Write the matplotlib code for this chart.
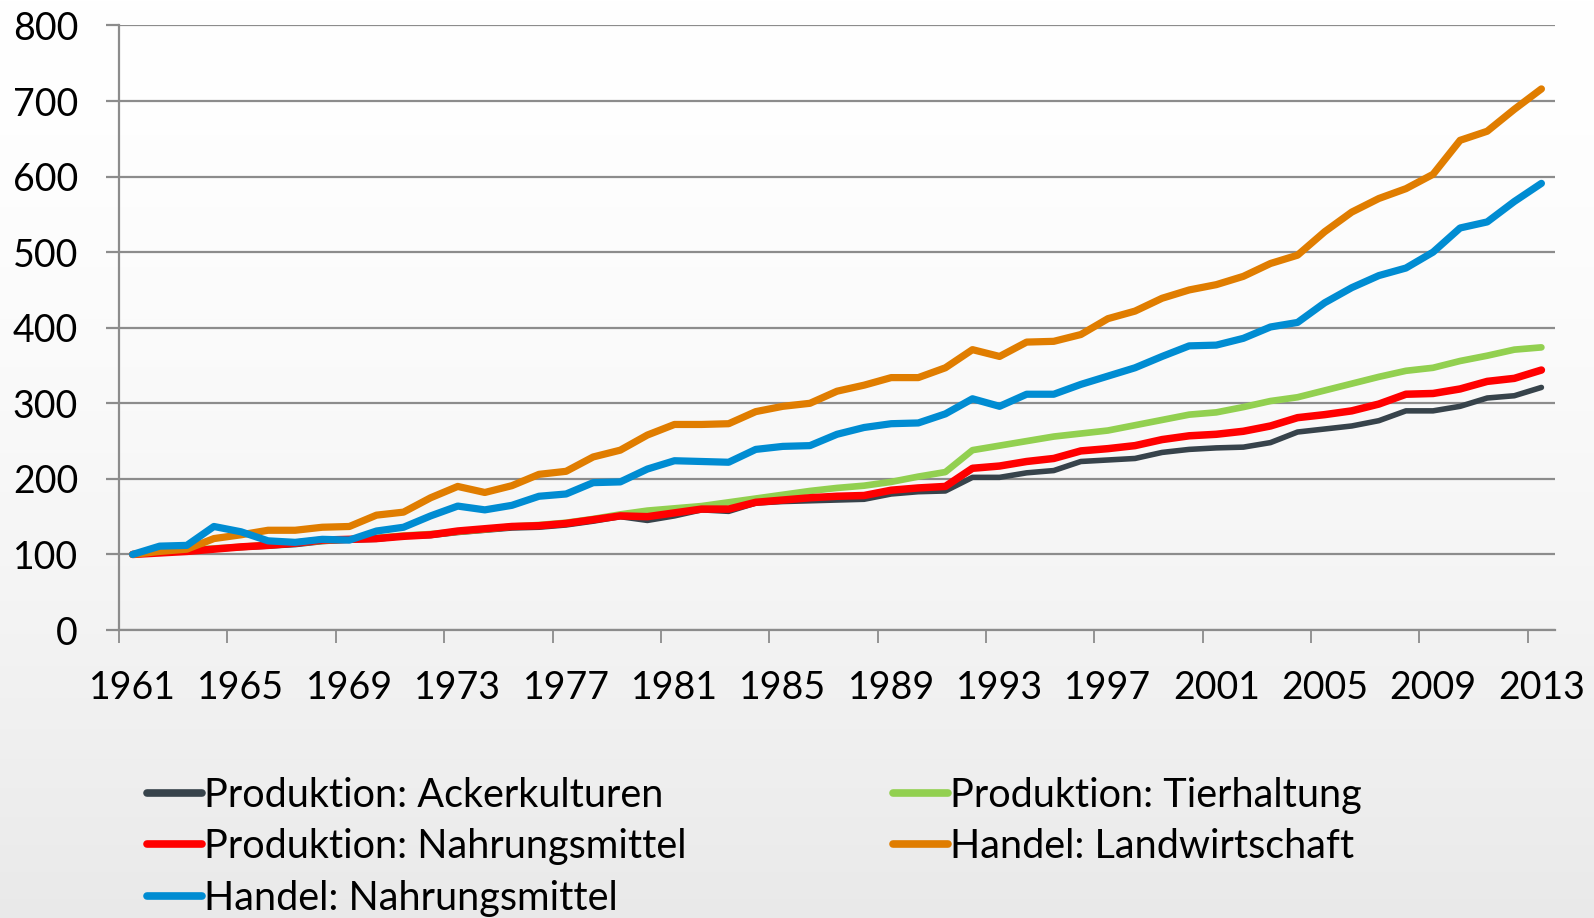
import matplotlib
matplotlib.use("Agg")
import matplotlib.pyplot as plt
import numpy as np
from matplotlib.lines import Line2D

plt.rcParams["font.family"] = ["Lato", "DejaVu Sans"]

# Index 1961 = 100
years = list(range(1961, 2014))

ackerkulturen = [
    100, 102, 104, 107, 109, 111, 113, 117, 119, 120,
    124, 125, 129, 132, 135, 136, 139, 144, 150, 145,
    151, 159, 157, 168, 170, 171, 172, 173, 180, 183,
    184, 202, 202, 208, 211, 223, 225, 227, 235, 239,
    241, 242, 248, 262, 266, 270, 277, 290, 290, 296,
    307, 310, 321,
]
tierhaltung = [
    100, 103, 106, 108, 110, 113, 115, 118, 120, 122,
    125, 127, 130, 133, 137, 139, 142, 147, 153, 158,
    161, 164, 169, 174, 179, 184, 188, 191, 196, 203,
    209, 238, 244, 250, 256, 260, 264, 271, 278, 285,
    288, 295, 303, 308, 317, 326, 335, 343, 347, 356,
    363, 371, 374,
]
prod_nahrungsmittel = [
    100, 102, 104, 107, 110, 112, 115, 119, 120, 121,
    124, 126, 131, 134, 137, 138, 141, 146, 151, 150,
    155, 160, 160, 169, 172, 175, 177, 178, 185, 188,
    190, 214, 217, 223, 227, 237, 240, 244, 252, 257,
    259, 263, 270, 281, 285, 290, 299, 312, 313, 319,
    329, 333, 344,
]
handel_landwirtschaft = [
    100, 104, 107, 121, 126, 132, 132, 136, 137, 152,
    156, 175, 190, 182, 191, 206, 210, 229, 238, 258,
    272, 272, 273, 289, 296, 300, 316, 324, 334, 334,
    347, 371, 362, 381, 382, 391, 412, 422, 439, 450,
    457, 468, 485, 496, 527, 553, 571, 584, 603, 648,
    660, 689, 716,
]
handel_nahrungsmittel = [
    100, 111, 112, 137, 130, 118, 116, 120, 119, 131,
    136, 151, 164, 159, 165, 177, 180, 195, 196, 213,
    224, 223, 222, 239, 243, 244, 259, 268, 273, 274,
    286, 306, 296, 312, 312, 325, 336, 347, 362, 376,
    377, 386, 401, 407, 433, 453, 469, 479, 500, 532,
    540, 567, 591,
]

labels = [
    "Produktion: Ackerkulturen",
    "Produktion: Tierhaltung",
    "Produktion: Nahrungsmittel",
    "Handel: Landwirtschaft",
    "Handel: Nahrungsmittel",
]
series = [ackerkulturen, tierhaltung, prod_nahrungsmittel,
          handel_landwirtschaft, handel_nahrungsmittel]
colors = ["#37434b", "#92d050", "#ff0000", "#e07d00", "#008cd2"]
widths = [4.0, 4.8, 5.4, 5.2, 5.2]

grid_color = "#8c8c8c"
font_size = 27
legend_size = 28.5

fig = plt.figure(figsize=(15.94, 9.18), dpi=100)

# heller Verlauf im Hintergrund (oben weiss, unten grau)
bg = fig.add_axes([0, 0, 1, 1], zorder=0)
t = np.linspace(0, 1, 400)[:, None]
shade = 1 - 0.085 * t ** 1.6
bg.imshow(np.dstack([shade, shade, shade]), aspect="auto",
          extent=[0, 1, 0, 1])
bg.axis("off")

ax = fig.add_axes([0.0747, 0.3137, 0.9008, 0.6586], zorder=1)
ax.patch.set_alpha(0)

for values, label, color, lw in zip(series, labels, colors, widths):
    ax.plot(years, values, color=color, lw=lw, label=label,
            solid_capstyle="round", solid_joinstyle="round")

ax.set_xlim(1960.5, 2013.5)
ax.set_ylim(0, 800)

ax.set_yticks(range(0, 801, 100))
ax.yaxis.grid(True, color=grid_color, lw=1.6)
ax.set_axisbelow(True)
ax.tick_params(axis="y", length=9.5, width=1.6, color=grid_color,
               labelsize=font_size, pad=20)

ax.set_xticks(years[::4])
ax.set_xticks(np.arange(1960.5, 2013, 4), minor=True)
ax.tick_params(axis="x", which="major", length=0, labelsize=font_size, pad=29)
ax.tick_params(axis="x", which="minor", length=9.5, width=1.3,
               color=grid_color)

for side in ["top", "right"]:
    ax.spines[side].set_visible(False)
for side in ["left", "bottom"]:
    ax.spines[side].set_color(grid_color)
    ax.spines[side].set_linewidth(1.6)

# Legende zeilenweise in zwei Spalten, wie im Original
def make_handle(i):
    return Line2D([], [], color=colors[i], lw=5.5, solid_capstyle="round")

legend_opts = dict(loc="upper left", frameon=False, fontsize=legend_size,
                   borderpad=0, borderaxespad=0, handlelength=1.4,
                   handletextpad=0.05, labelspacing=0.37)
left_idx = [0, 2, 4]
right_idx = [1, 3]
fig.legend([make_handle(i) for i in left_idx],
           [labels[i] for i in left_idx],
           bbox_to_anchor=(0.092, 0.154), **legend_opts)
fig.legend([make_handle(i) for i in right_idx],
           [labels[i] for i in right_idx],
           bbox_to_anchor=(0.560, 0.154), **legend_opts)

fig.savefig("out.png", dpi=100)
